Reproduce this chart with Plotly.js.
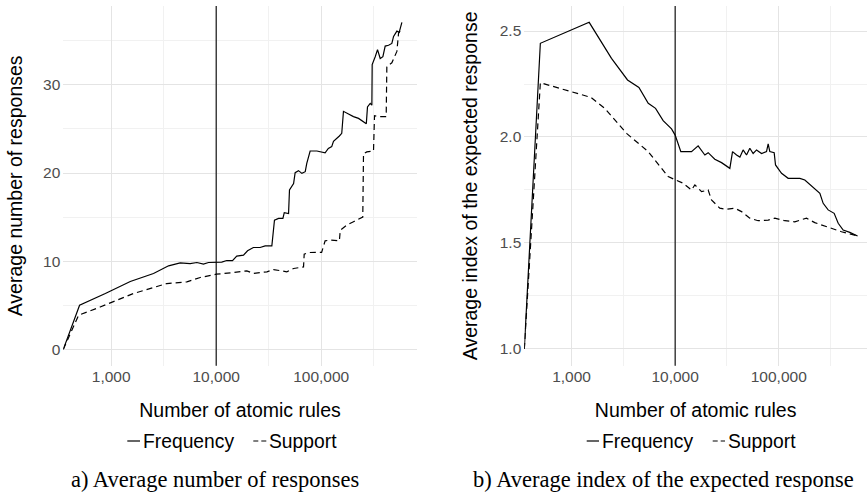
<!DOCTYPE html>
<html>
<head>
<meta charset="utf-8">
<script src="https://cdn.plot.ly/plotly-3.0.1.min.js"></script>
<style>html,body{margin:0;padding:0;background:#fff;}#chart{width:867px;height:493px;}</style>
</head>
<body>
<div id="chart"></div>
<script>
// ---- Data ----
const xTickVals = [1000, 10000, 100000];
const xTickText = ['1,000', '10,000', '100,000'];
const xMinorVals = [3162, 31623, 316228];
const threshold = 10000;

// Panel a) Average number of responses
const aFreqX = [350, 500, 880, 1520, 2530, 3520, 4540, 5650, 6550, 7570, 8450, 10000, 11300, 12600, 14300, 15700, 18200, 19900, 22600, 26200, 29300, 33900, 35900, 39300, 43200, 44500, 48900, 49900, 54600, 56500, 60800, 65500, 70500, 72900, 78500, 91000, 100000, 109000, 117000, 126000, 131000, 141000, 149000, 157000, 163000, 182000, 203000, 227000, 253000, 269000, 276000, 293000, 304000, 306000, 327000, 344000, 365000, 387000, 407000, 438000, 471000, 489000, 526000, 553000, 587000];
const aFreqY = [0, 5.0, 6.33, 7.7, 8.6, 9.47, 9.8, 9.73, 9.85, 9.66, 9.85, 9.85, 9.9, 10.07, 10.07, 10.57, 10.68, 11.17, 11.55, 11.55, 11.74, 11.74, 14.66, 14.85, 14.85, 15.5, 15.4, 18.07, 18.8, 20.04, 20.27, 19.96, 20.15, 21.1, 22.5, 22.5, 22.4, 22.3, 22.8, 23.0, 23.6, 23.9, 24.2, 24.5, 27.0, 26.7, 26.4, 26.2, 25.8, 25.6, 27.5, 27.9, 27.7, 32.3, 33.2, 34.0, 33.0, 33.2, 34.4, 34.5, 34.7, 35.5, 36.1, 35.96, 37.1];
const aSuppX = [350, 489, 785, 1630, 3390, 5260, 7050, 10000, 14600, 19600, 22600, 30400, 35200, 47100, 54600, 67900, 68900, 75700, 101000, 105000, 109000, 122000, 149000, 152000, 176000, 203000, 235000, 249000, 253000, 272000, 315000, 322000, 352000, 416000, 422000, 471000, 526000, 546000, 565000];
const aSuppY = [0, 3.86, 4.8, 6.33, 7.46, 7.65, 8.15, 8.52, 8.71, 8.9, 8.6, 8.79, 9.05, 8.79, 9.17, 9.35, 10.8, 10.98, 11.0, 11.6, 12.3, 12.4, 12.3, 13.5, 14.1, 14.47, 14.85, 15.0, 22.2, 22.4, 22.5, 26.5, 26.4, 26.4, 32.1, 32.5, 33.8, 35.9, 36.1];

// Panel b) Average index of the expected response
const bFreqX = [350, 500, 1480, 2430, 3470, 4470, 5500, 6470, 7660, 9230, 10000, 11350, 14390, 16670, 19360, 20840, 24150, 28050, 33730, 35810, 39170, 42170, 45290, 48870, 52600, 56620, 61090, 68230, 76210, 79070, 82030, 90360, 93110, 106400, 123300, 160000, 178600, 222800, 249500, 268500, 299900, 342800, 375000, 418800, 485300, 577000];
const bFreqY = [1.0, 2.442, 2.541, 2.371, 2.269, 2.234, 2.159, 2.135, 2.077, 2.038, 2.009, 1.931, 1.931, 1.958, 1.915, 1.926, 1.895, 1.879, 1.852, 1.931, 1.915, 1.905, 1.939, 1.915, 1.947, 1.922, 1.939, 1.922, 1.931, 1.967, 1.931, 1.926, 1.868, 1.829, 1.805, 1.805, 1.797, 1.758, 1.734, 1.687, 1.656, 1.640, 1.593, 1.561, 1.550, 1.533];
const bSuppX = [350, 500, 1535, 2094, 3396, 5495, 8570, 10000, 11940, 14390, 15490, 17990, 20840, 22440, 26980, 31330, 37670, 43750, 52600, 63240, 79070, 91620, 114600, 142900, 185400, 222800, 258800, 323600, 403600, 577000];
const bSuppY = [1.0, 2.256, 2.187, 2.135, 2.017, 1.931, 1.813, 1.797, 1.782, 1.75, 1.774, 1.742, 1.75, 1.703, 1.664, 1.659, 1.664, 1.648, 1.617, 1.605, 1.608, 1.617, 1.605, 1.6, 1.617, 1.596, 1.585, 1.569, 1.553, 1.533];

const aYTicks = [0, 10, 20, 30];
const aYMinor = [5, 15, 25, 35];
const bYTicks = [1.0, 1.5, 2.0, 2.5];
const bYTickText = ['1.0', '1.5', '2.0', '2.5'];
const bYMinor = [1.25, 1.75, 2.25];

const seriesNames = ['Frequency', 'Support'];
const captions = ['a) Average number of responses', 'b) Average index of the expected response'];
const xTitle = 'Number of atomic rules';
const yTitles = ['Average number of responses', 'Average index of the expected response'];

// ---- Styling ----
const W = 867, H = 493;
const SANS = 'Liberation Sans, Arial, sans-serif';
const SERIF = 'Liberation Serif, Times New Roman, serif';
const DASH = '6px,4px';
const px = v => v / W;
const py = v => 1 - v / H;

const lineSolid = {color: '#000', width: 1.2};
const lineDash = {color: '#000', width: 1.2, dash: DASH};

const traces = [
  {x: aFreqX, y: aFreqY, name: seriesNames[0], mode: 'lines', line: lineSolid, xaxis: 'x', yaxis: 'y', showlegend: false},
  {x: aSuppX, y: aSuppY, name: seriesNames[1], mode: 'lines', line: lineDash, xaxis: 'x', yaxis: 'y', showlegend: false},
  {x: bFreqX, y: bFreqY, name: seriesNames[0], mode: 'lines', line: lineSolid, xaxis: 'x2', yaxis: 'y2', showlegend: false},
  {x: bSuppX, y: bSuppY, name: seriesNames[1], mode: 'lines', line: lineDash, xaxis: 'x2', yaxis: 'y2', showlegend: false}
];

const gridMajor = '#e4e4e4';
const gridMinor = '#f1f1f1';
const tickFont = {family: SANS, size: 15.5, color: '#4d4d4d'};
const titleFont = {family: SANS, size: 19.5, color: '#000'};

const yDomain = [1 - 365.7 / H, 1 - 6 / H];

function xAxis(domain, range, anchor) {
  return {
    type: 'log', domain: domain, range: range, anchor: anchor,
    tickmode: 'array', tickvals: xTickVals, ticktext: xTickText,
    tickfont: tickFont, ticks: '', showline: false, zeroline: false,
    showgrid: true, gridcolor: gridMajor, gridwidth: 1,
    minor: {tickmode: 'array', tickvals: xMinorVals, showgrid: true, gridcolor: gridMinor, gridwidth: 1, ticks: ''},
    title: {text: xTitle, font: titleFont, standoff: 19},
    automargin: false, fixedrange: true
  };
}
function yAxis(range, tickvals, ticktext, minorVals, title, anchor, standoff) {
  const ax = {
    domain: yDomain, range: range, anchor: anchor,
    tickmode: 'array', tickvals: tickvals,
    tickfont: tickFont, ticks: '', showline: false, zeroline: false,
    showgrid: true, gridcolor: gridMajor, gridwidth: 1,
    minor: {tickmode: 'array', tickvals: minorVals, showgrid: true, gridcolor: gridMinor, gridwidth: 1, ticks: ''},
    title: {text: title, font: titleFont, standoff: standoff},
    ticklabelstandoff: 2,
    automargin: false, fixedrange: true
  };
  if (ticktext) ax.ticktext = ticktext;
  return ax;
}

const shapes = [
  {type: 'line', xref: 'x', yref: 'y domain', x0: threshold, x1: threshold, y0: 0, y1: 1, line: {color: '#000', width: 1.1}},
  {type: 'line', xref: 'x2', yref: 'y2 domain', x0: threshold, x1: threshold, y0: 0, y1: 1, line: {color: '#000', width: 1.1}}
];
const annotations = [];

// legend keys + labels for each panel (drawn below each panel)
const legendSpecs = [
  {solid: [127.3, 140], solidText: 141.2, dash: [253.3, 266.7], dashText: 267.2},
  {solid: [586.7, 599], solidText: 600, dash: [712.7, 725], dashText: 726}
];
const legendY = 441;
legendSpecs.forEach(s => {
  shapes.push({type: 'line', xref: 'paper', yref: 'paper', x0: px(s.solid[0]), x1: px(s.solid[1]), y0: py(legendY), y1: py(legendY), line: {color: '#000', width: 1.2}});
  shapes.push({type: 'line', xref: 'paper', yref: 'paper', x0: px(s.dash[0]), x1: px(s.dash[1]), y0: py(legendY), y1: py(legendY), line: {color: '#000', width: 1.2, dash: '5px,3px'}});
  annotations.push({xref: 'paper', yref: 'paper', x: px(s.solidText), y: py(legendY), xanchor: 'left', yanchor: 'middle', text: seriesNames[0], showarrow: false, font: {family: SANS, size: 19.3, color: '#000'}});
  annotations.push({xref: 'paper', yref: 'paper', x: px(s.dashText), y: py(legendY), xanchor: 'left', yanchor: 'middle', text: seriesNames[1], showarrow: false, font: {family: SANS, size: 19.3, color: '#000'}});
});

// captions
const captionX = [214.5, 663.5];
captions.forEach((c, i) => {
  annotations.push({xref: 'paper', yref: 'paper', x: px(captionX[i]), y: py(479), xanchor: 'center', yanchor: 'middle', text: c, showarrow: false, font: {family: SERIF, size: 22.5, color: '#000'}});
});

const layout = {
  width: W, height: H,
  margin: {l: 0, r: 0, t: 0, b: 0, pad: 0},
  paper_bgcolor: '#fff', plot_bgcolor: '#fff',
  showlegend: false,
  xaxis: xAxis([63.3 / W, 416.7 / W], [2.544, 5.9097], 'y'),
  yaxis: yAxis([-1.86, 38.95], aYTicks, null, aYMinor, yTitles[0], 'x', 15),
  xaxis2: xAxis([524.3 / W, 1], [2.544, 5.852], 'y2'),
  yaxis2: yAxis([0.921, 2.618], bYTicks, bYTickText, bYMinor, yTitles[1], 'x2', 16),
  shapes: shapes,
  annotations: annotations
};

Plotly.newPlot('chart', traces, layout, {displayModeBar: false, staticPlot: true});
</script>
</body>
</html>
